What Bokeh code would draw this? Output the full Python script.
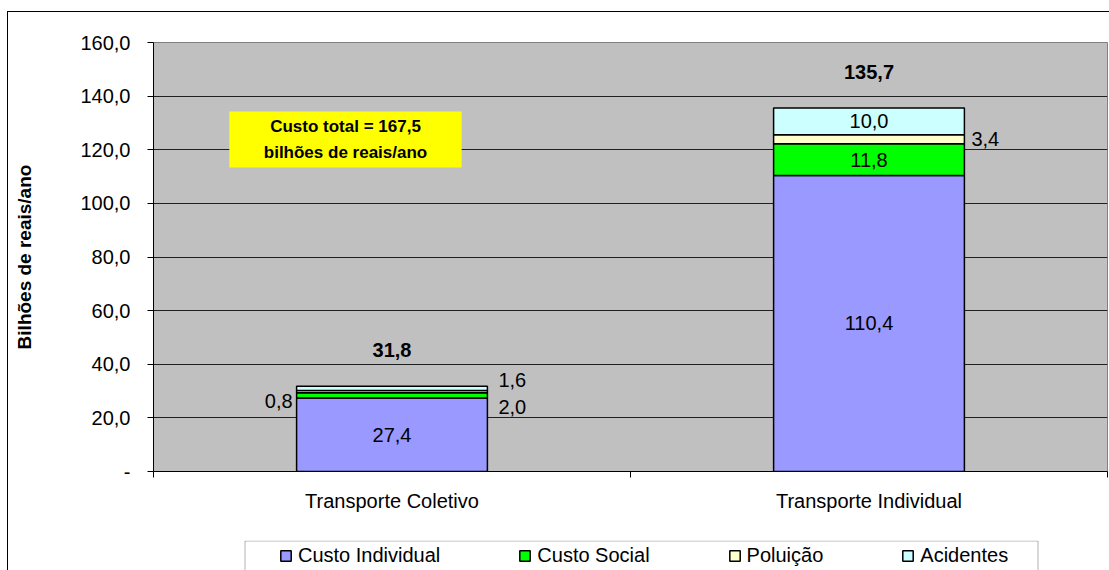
from bokeh.plotting import figure
from bokeh.layouts import column
from bokeh.models import (ColumnDataSource, Range1d, FixedTicker, Legend, LegendItem,
                          Label, BoxAnnotation)
from bokeh.embed import file_html
from bokeh.resources import INLINE

# ---------------- data ----------------
categories = ["Transporte Coletivo", "Transporte Individual"]
series = ["Custo Individual", "Custo Social", "Poluição", "Acidentes"]
custo_individual = [27.4, 110.4]
custo_social = [2.0, 11.8]
poluicao = [0.8, 3.4]
acidentes = [1.6, 10.0]
totals = [31.8, 135.7]
y_ticks = [0, 20, 40, 60, 80, 100, 120, 140, 160]
box_text = "Custo total = 167,5\nbilhões de reais/ano"
y_title = "Bilhões de reais/ano"

colors = ["#9999FF", "#00FF00", "#FFFFCC", "#CCFFFF"]
FONT = "Liberation Sans"
FS = "20px"

def fmt(v):
    return f"{v:.1f}".replace(".", ",")

xs = [i + 0.5 for i in range(len(categories))]
keys = ["ci", "cs", "po", "ac"]
values = [custo_individual, custo_social, poluicao, acidentes]
src = ColumnDataSource(dict(x=xs, **{k: v for k, v in zip(keys, values)}))

W, H = 1101, 528
BL, BR = 145, 2
p = figure(width=W, height=H, x_range=Range1d(0, len(categories)), y_range=Range1d(0, 160),
           output_backend="svg", toolbar_location=None,
           min_border_left=BL, min_border_right=BR, min_border_top=30, min_border_bottom=69)
p.background_fill_color = "#C0C0C0"
p.border_fill_color = "white"
p.outline_line_color = "#808080"
p.outline_line_width = 1

BAR_W = 0.4
renderers = p.vbar_stack(keys, x="x", width=BAR_W, color=colors, line_color="black",
                         line_width=1.5, source=src)

# ---------------- axes ----------------
yax = p.yaxis[0]
yax.ticker = FixedTicker(ticks=y_ticks)
yax.major_label_overrides = {t: ("-" if t == 0 else fmt(t)) for t in y_ticks}
yax.major_tick_out = 6
yax.major_tick_in = 0
yax.minor_tick_out = 0
yax.minor_tick_in = 0
yax.major_label_standoff = 17
yax.major_label_text_font = FONT
yax.major_label_text_font_size = FS
yax.major_label_text_color = "black"
yax.axis_line_color = "black"
yax.major_tick_line_color = "black"
yax.axis_label = y_title
yax.axis_label_text_font = FONT
yax.axis_label_text_font_size = "19px"
yax.axis_label_text_font_style = "bold"
yax.axis_label_text_color = "black"
yax.axis_label_standoff = 42

xax = p.xaxis[0]
xax.ticker = FixedTicker(ticks=xs, minor_ticks=list(range(len(categories) + 1)))
xax.major_label_overrides = {x: c for x, c in zip(xs, categories)}
xax.major_tick_out = 0
xax.major_tick_in = 0
xax.minor_tick_out = 6
xax.minor_tick_in = 0
xax.minor_tick_line_color = "black"
xax.major_label_standoff = 12
xax.major_label_text_font = FONT
xax.major_label_text_font_size = FS
xax.major_label_text_color = "black"
xax.axis_line_color = "black"

p.xgrid.grid_line_color = None
p.ygrid.ticker = FixedTicker(ticks=y_ticks[1:-1])
p.ygrid.grid_line_color = "#202020"
p.ygrid.grid_line_width = 1

# ---------------- segment labels ----------------
placement = {
    (0, 0): ("in", 0), (0, 1): ("right", -12), (0, 2): ("left", -9), (0, 3): ("right", 8),
    (1, 0): ("in", 0), (1, 1): ("in", 0), (1, 2): ("right", 0), (1, 3): ("in", 0),
}
for ci, x in enumerate(xs):
    base = 0.0
    for si, vals in enumerate(values):
        v = vals[ci]
        mid = base + v / 2
        base += v
        mode, dy = placement[(ci, si)]
        if mode == "in":
            lx, align, xo = x, "center", 0
        elif mode == "right":
            lx, align, xo = x + BAR_W / 2, "left", (11 if ci == 0 else 7)
        else:
            lx, align, xo = x - BAR_W / 2, "right", -4
        p.add_layout(Label(x=lx, y=mid, text=fmt(v), text_align=align, text_baseline="middle",
                           x_offset=xo, y_offset=dy, text_font=FONT, text_font_size=FS,
                           text_color="black"))
    p.add_layout(Label(x=x, y=totals[ci], text=fmt(totals[ci]), text_align="center",
                       text_baseline="middle", y_offset=36, text_font=FONT,
                       text_font_size=FS, text_font_style="bold", text_color="black"))

# ---------------- yellow box ----------------
p.add_layout(BoxAnnotation(left=0.159, right=0.646, bottom=113.4, top=134.3,
                           fill_color="#FFFF00", fill_alpha=1, line_color=None))
p.add_layout(Label(x=(0.159 + 0.646) / 2, y=(113.4 + 134.3) / 2, text=box_text,
                   text_align="center", text_baseline="middle", text_font=FONT,
                   text_font_size="17px", text_font_style="bold", text_color="black",
                   text_line_height=1.35))

# ---------------- legend (own strip below the chart, frame aligned with chart) ----------------
FW = W - BL - BR          # frame width in px (x range of the strip is in px)
LH = 30
q = figure(width=W, height=LH, x_range=Range1d(0, FW), y_range=Range1d(0, LH),
           output_backend="svg", toolbar_location=None, x_axis_type=None, y_axis_type=None,
           min_border_left=BL, min_border_right=BR, min_border_top=0, min_border_bottom=0)
q.outline_line_color = None
q.grid.visible = False
q.background_fill_color = "white"
q.border_fill_color = "white"
# hidden proxies of the same stacked series, only used to draw the legend swatches
leg_renderers = q.vbar_stack(keys, x="x", width=BAR_W, color=colors, line_color="black",
                             line_width=1.5, source=src)
for r in leg_renderers:
    r.visible = False
q.add_layout(BoxAnnotation(left=91.5, right=884.5, top=LH - 0.5, bottom=-10,
                           fill_alpha=0, line_color="black", line_width=1))
items = [LegendItem(label=s, renderers=[r]) for s, r in zip(series, leg_renderers)]
legend = Legend(items=items, orientation="horizontal", location=(126, 3), padding=0, margin=0,
                spacing=78, glyph_width=13, glyph_height=13, label_standoff=6, label_height=19,
                label_text_font=FONT, label_text_font_size=FS, label_text_color="black",
                border_line_color=None, background_fill_alpha=0,
                inactive_fill_alpha=0)
q.add_layout(legend, "center")

layout = column(p, q, spacing=0, margin=(11, 0, 0, 7),
                styles={"border-left": "1px solid black", "border-top": "1px solid black"})

open("out.html", "w").write(file_html(layout, INLINE))
